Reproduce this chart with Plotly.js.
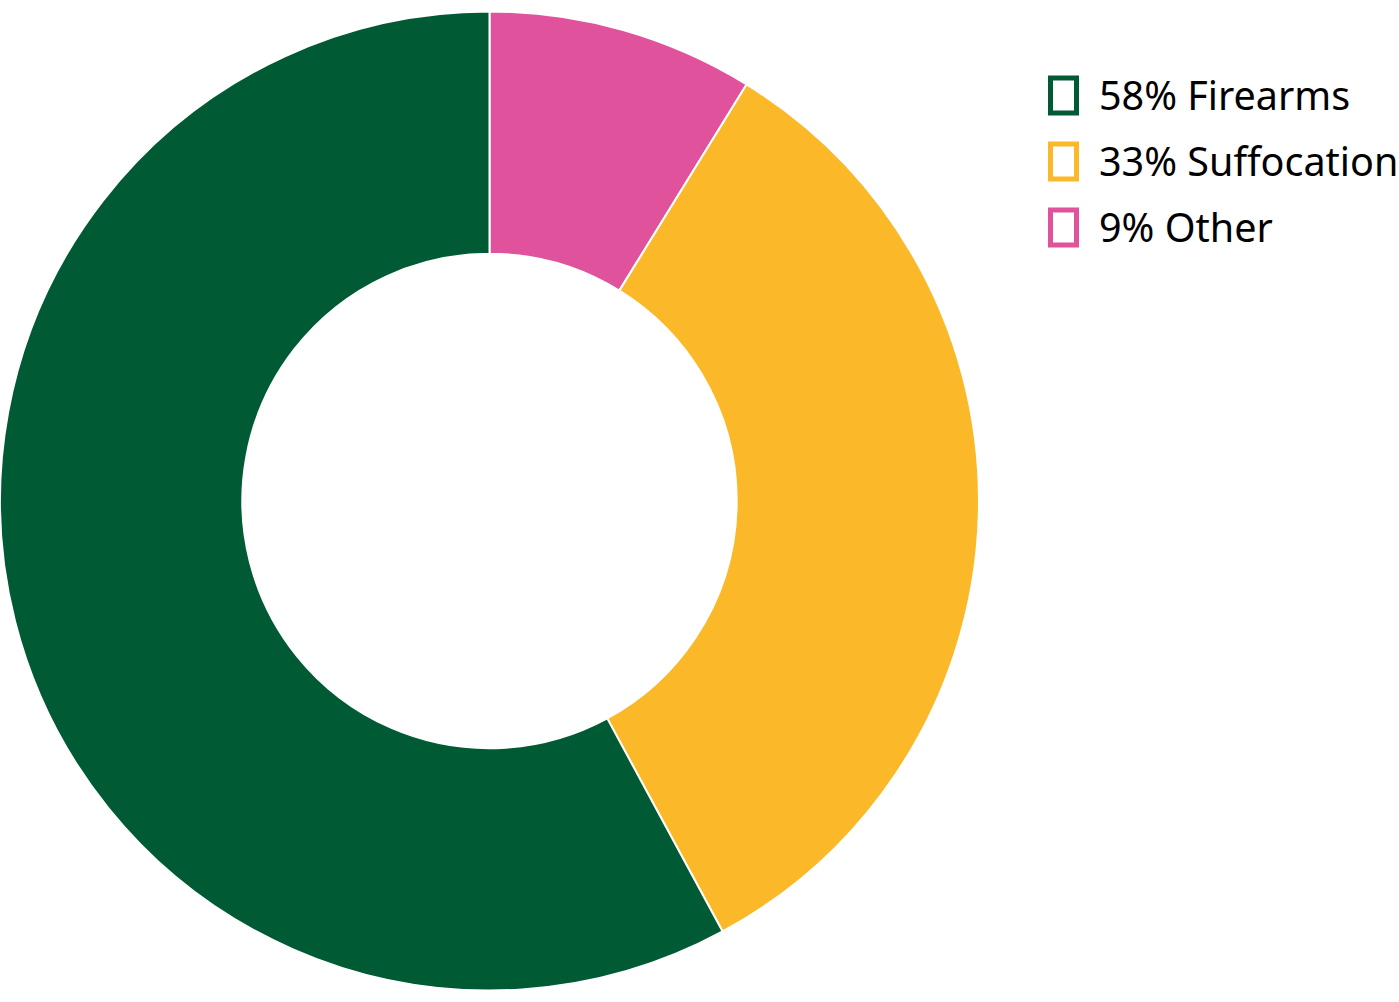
<!DOCTYPE html>
<html>
<head>
<meta charset="utf-8">
<script src="https://cdn.plot.ly/plotly-3.0.1.min.js"></script>
<style>html,body{margin:0;padding:0;background:#fff;}#chart{width:1399px;height:1002px;}</style>
</head>
<body>
<div id="chart"></div>
<script>
const categories = ["Firearms", "Suffocation", "Other"];
const percents = [58, 33, 9];
const values = [57.9, 33.3, 8.8];
const colors = ["#005a34", "#fbb92a", "#e0539c"];

const W = 1399, H = 1002;
// slices drawn clockwise from 12 o'clock: Other, Suffocation, Firearms
const trace = {
  type: "pie",
  labels: categories.slice().reverse(),
  values: values.slice().reverse(),
  sort: false,
  direction: "clockwise",
  rotation: 0,
  hole: 0.505,
  textinfo: "none",
  hoverinfo: "label+percent",
  marker: { colors: colors.slice().reverse(), line: { color: "#ffffff", width: 2 } },
  domain: { x: [0, 979 / W], y: [0, 1] },
  showlegend: false
};

const annotations = [];
const shapes = [];
const rowY = [95, 161, 227];
categories.forEach((c, i) => {
  annotations.push({
    xref: "paper", yref: "paper",
    x: 1097 / W, y: 1 - rowY[i] / H,
    xanchor: "left", yanchor: "middle",
    text: percents[i] + "% " + c,
    showarrow: false,
    font: { family: "Noto Sans", size: 39.5, color: "#000000" }
  });
  shapes.push({
    type: "rect", xref: "paper", yref: "paper",
    x0: 1050.5 / W, x1: 1076.5 / W,
    y0: 1 - (rowY[i] - 17) / H, y1: 1 - (rowY[i] + 18) / H,
    line: { color: colors[i], width: 5 },
    fillcolor: "rgba(0,0,0,0)"
  });
});

const layout = {
  width: W, height: H,
  margin: { l: 0, r: 0, t: 0, b: 0 },
  paper_bgcolor: "#ffffff",
  plot_bgcolor: "#ffffff",
  showlegend: false,
  annotations: annotations,
  shapes: shapes
};

Plotly.newPlot("chart", [trace], layout, { displayModeBar: false, staticPlot: true });
</script>
</body>
</html>
